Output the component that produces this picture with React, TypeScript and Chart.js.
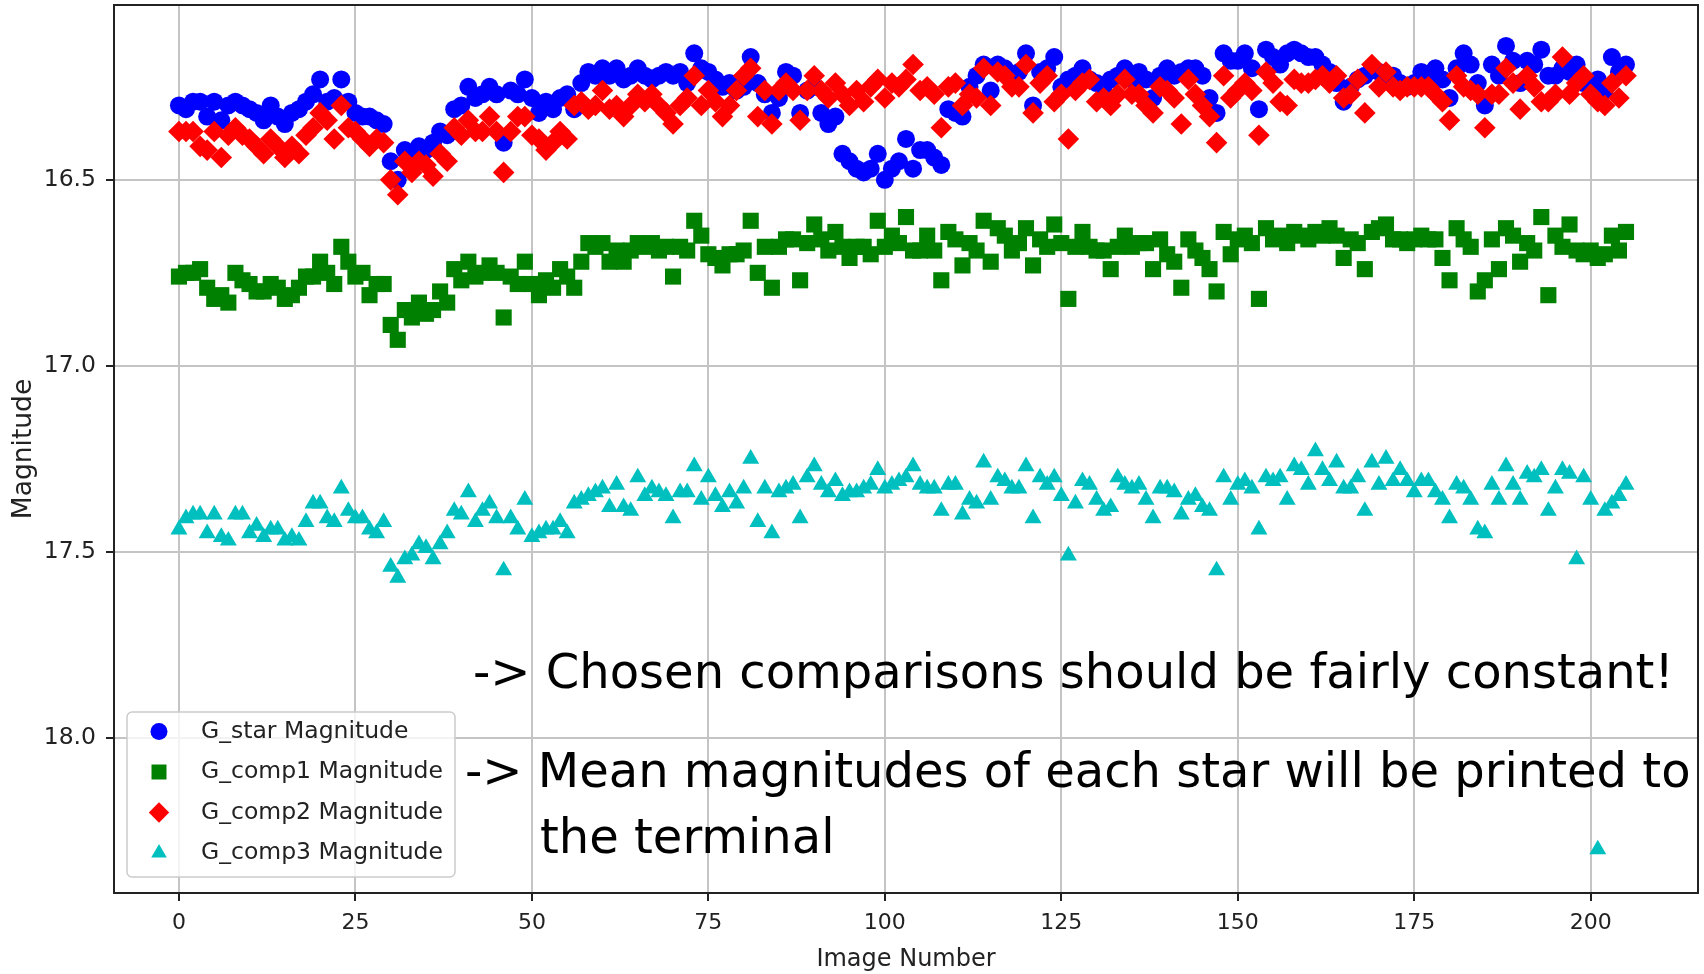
import React, { useEffect, useRef } from 'react';
import { Chart, registerables } from 'chart.js';
import { drawPoint } from 'chart.js/helpers';

Chart.register(...registerables);

const imageNumbers: number[] = Array.from({ length: 206 }, (_, i) => i);

const gStar = [
  16.30, 16.31, 16.29, 16.29, 16.33, 16.29, 16.34, 16.30, 16.29, 16.30,
  16.31, 16.32, 16.34, 16.30, 16.33, 16.35, 16.32, 16.31, 16.29, 16.27,
  16.23, 16.29, 16.28, 16.23, 16.29, 16.32, 16.33, 16.33, 16.34, 16.35,
  16.45, 16.50, 16.42, 16.43, 16.41, 16.42, 16.40, 16.37, 16.38, 16.31,
  16.30, 16.25, 16.28, 16.27, 16.25, 16.27, 16.40, 16.26, 16.27, 16.23,
  16.28, 16.32, 16.29, 16.31, 16.28, 16.27, 16.31, 16.24, 16.21, 16.22,
  16.20, 16.22, 16.20, 16.23, 16.22, 16.20, 16.22, 16.23, 16.22, 16.21,
  16.22, 16.21, 16.24, 16.16, 16.20, 16.21, 16.23, 16.25, 16.24, 16.26,
  16.25, 16.17, 16.24, 16.27, 16.32, 16.28, 16.21, 16.22, 16.32, 16.26,
  16.25, 16.32, 16.35, 16.33, 16.43, 16.45, 16.47, 16.48, 16.47, 16.43,
  16.50, 16.47, 16.45, 16.39, 16.47, 16.42, 16.42, 16.44, 16.46, 16.31,
  16.32, 16.33, 16.25, 16.22, 16.19, 16.26, 16.19, 16.20, 16.22, 16.21,
  16.16, 16.30, 16.21, 16.20, 16.17, 16.25, 16.23, 16.22, 16.20, 16.23,
  16.24, 16.25, 16.23, 16.22, 16.20, 16.23, 16.21, 16.23, 16.28, 16.22,
  16.20, 16.22, 16.21, 16.20, 16.20, 16.22, 16.28, 16.32, 16.16, 16.18,
  16.18, 16.16, 16.20, 16.31, 16.15, 16.17, 16.19, 16.16, 16.15, 16.16,
  16.17, 16.17, 16.19, 16.21, 16.24, 16.29, 16.25, 16.23, 16.22, 16.20,
  16.21, 16.22, 16.22, 16.24, 16.25, 16.24, 16.21, 16.22, 16.20, 16.23,
  16.28, 16.20, 16.16, 16.19, 16.24, 16.30, 16.19, 16.22, 16.14, 16.18,
  16.24, 16.18, 16.19, 16.15, 16.22, 16.22, 16.20, 16.21, 16.19, 16.24,
  16.25, 16.23, 16.26, 16.17, 16.21, 16.19,
];

const gComp1 = [
  16.76, 16.75, 16.75, 16.74, 16.79, 16.82, 16.81, 16.83, 16.75, 16.77,
  16.78, 16.80, 16.80, 16.78, 16.79, 16.82, 16.81, 16.79, 16.76, 16.76,
  16.72, 16.75, 16.78, 16.68, 16.72, 16.76, 16.75, 16.81, 16.78, 16.78,
  16.89, 16.93, 16.85, 16.87, 16.83, 16.86, 16.85, 16.80, 16.83, 16.74,
  16.77, 16.72, 16.76, 16.75, 16.73, 16.75, 16.87, 16.76, 16.78, 16.72,
  16.78, 16.81, 16.77, 16.79, 16.74, 16.76, 16.79, 16.72, 16.67, 16.68,
  16.67, 16.72, 16.69, 16.72, 16.69, 16.67, 16.68, 16.67, 16.69, 16.68,
  16.76, 16.68, 16.69, 16.61, 16.65, 16.70, 16.71, 16.73, 16.70, 16.70,
  16.69, 16.61, 16.75, 16.68, 16.79, 16.68, 16.66, 16.66, 16.77, 16.67,
  16.62, 16.66, 16.69, 16.64, 16.68, 16.71, 16.68, 16.68, 16.70, 16.61,
  16.68, 16.65, 16.67, 16.60, 16.69, 16.69, 16.65, 16.69, 16.77, 16.64,
  16.66, 16.73, 16.67, 16.69, 16.61, 16.72, 16.63, 16.65, 16.69, 16.67,
  16.63, 16.73, 16.66, 16.68, 16.62, 16.67, 16.82, 16.68, 16.64, 16.68,
  16.69, 16.69, 16.74, 16.68, 16.65, 16.68, 16.67, 16.67, 16.74, 16.66,
  16.70, 16.72, 16.79, 16.66, 16.69, 16.71, 16.74, 16.80, 16.64, 16.70,
  16.66, 16.65, 16.67, 16.82, 16.63, 16.66, 16.65, 16.67, 16.64, 16.65,
  16.66, 16.64, 16.65, 16.63, 16.65, 16.71, 16.66, 16.67, 16.74, 16.64,
  16.63, 16.62, 16.66, 16.66, 16.67, 16.66, 16.65, 16.66, 16.66, 16.71,
  16.77, 16.63, 16.66, 16.68, 16.80, 16.77, 16.66, 16.74, 16.63, 16.65,
  16.72, 16.67, 16.69, 16.60, 16.81, 16.65, 16.68, 16.62, 16.69, 16.70,
  16.69, 16.71, 16.70, 16.65, 16.69, 16.64,
];

const gComp2 = [
  16.37, 16.37, 16.37, 16.41, 16.42, 16.37, 16.44, 16.38, 16.36, 16.38,
  16.39, 16.41, 16.43, 16.39, 16.41, 16.44, 16.41, 16.43, 16.38, 16.36,
  16.32, 16.34, 16.39, 16.30, 16.36, 16.37, 16.39, 16.41, 16.39, 16.40,
  16.50, 16.54, 16.45, 16.48, 16.45, 16.46, 16.49, 16.43, 16.45, 16.36,
  16.38, 16.34, 16.37, 16.37, 16.33, 16.37, 16.48, 16.37, 16.33, 16.33,
  16.38, 16.39, 16.42, 16.40, 16.37, 16.39, 16.30, 16.29, 16.31, 16.30,
  16.26, 16.31, 16.30, 16.33, 16.30, 16.27, 16.29, 16.27, 16.30, 16.32,
  16.35, 16.30, 16.28, 16.22, 16.30, 16.26, 16.29, 16.33, 16.30, 16.26,
  16.22, 16.20, 16.33, 16.26, 16.35, 16.26, 16.24, 16.26, 16.34, 16.26,
  16.22, 16.26, 16.28, 16.24, 16.27, 16.30, 16.26, 16.29, 16.25, 16.23,
  16.28, 16.24, 16.25, 16.23, 16.19, 16.26, 16.25, 16.27, 16.36, 16.25,
  16.24, 16.30, 16.27, 16.28, 16.20, 16.30, 16.21, 16.22, 16.25, 16.25,
  16.19, 16.32, 16.24, 16.22, 16.29, 16.27, 16.39, 16.26, 16.24, 16.23,
  16.29, 16.28, 16.30, 16.27, 16.23, 16.27, 16.27, 16.30, 16.32, 16.25,
  16.26, 16.28, 16.35, 16.23, 16.27, 16.30, 16.33, 16.40, 16.22, 16.28,
  16.26, 16.24, 16.26, 16.38, 16.21, 16.24, 16.29, 16.30, 16.23, 16.24,
  16.24, 16.23, 16.22, 16.24, 16.22, 16.28, 16.27, 16.23, 16.32, 16.19,
  16.25, 16.21, 16.25, 16.26, 16.25, 16.25, 16.25, 16.25, 16.27, 16.29,
  16.34, 16.22, 16.25, 16.26, 16.27, 16.36, 16.27, 16.27, 16.20, 16.24,
  16.31, 16.22, 16.25, 16.29, 16.29, 16.27, 16.17, 16.27, 16.24, 16.22,
  16.27, 16.29, 16.30, 16.24, 16.28, 16.22,
];

const gComp3 = [
  17.44, 17.41, 17.40, 17.40, 17.45, 17.40, 17.46, 17.47, 17.40, 17.40,
  17.45, 17.43, 17.46, 17.44, 17.44, 17.47, 17.46, 17.47, 17.42, 17.37,
  17.37, 17.41, 17.42, 17.33, 17.39, 17.41, 17.41, 17.44, 17.45, 17.42,
  17.54, 17.57, 17.52, 17.51, 17.48, 17.49, 17.52, 17.48, 17.45, 17.39,
  17.40, 17.34, 17.42, 17.39, 17.37, 17.41, 17.55, 17.41, 17.44, 17.36,
  17.46, 17.45, 17.44, 17.44, 17.42, 17.45, 17.37, 17.36, 17.35, 17.34,
  17.33, 17.38, 17.32, 17.38, 17.39, 17.30, 17.35, 17.33, 17.34, 17.35,
  17.41, 17.34, 17.34, 17.27, 17.36, 17.30, 17.35, 17.38, 17.34, 17.37,
  17.33, 17.25, 17.42, 17.33, 17.45, 17.34, 17.33, 17.32, 17.41, 17.30,
  17.27, 17.32, 17.34, 17.31, 17.35, 17.34, 17.34, 17.33, 17.32, 17.28,
  17.33, 17.32, 17.31, 17.30, 17.27, 17.32, 17.33, 17.33, 17.39, 17.32,
  17.32, 17.40, 17.36, 17.37, 17.26, 17.36, 17.30, 17.31, 17.33, 17.33,
  17.27, 17.41, 17.30, 17.32, 17.30, 17.35, 17.51, 17.37, 17.31, 17.32,
  17.36, 17.39, 17.38, 17.30, 17.32, 17.33, 17.32, 17.36, 17.41, 17.33,
  17.33, 17.34, 17.40, 17.36, 17.35, 17.38, 17.39, 17.55, 17.30, 17.36,
  17.32, 17.31, 17.33, 17.44, 17.30, 17.31, 17.30, 17.36, 17.27, 17.28,
  17.32, 17.23, 17.28, 17.31, 17.26, 17.33, 17.33, 17.30, 17.39, 17.26,
  17.32, 17.25, 17.31, 17.28, 17.31, 17.34, 17.31, 17.31, 17.34, 17.36,
  17.41, 17.32, 17.33, 17.36, 17.44, 17.45, 17.32, 17.36, 17.27, 17.32,
  17.36, 17.29, 17.30, 17.28, 17.39, 17.33, 17.28, 17.29, 17.52, 17.30,
  17.36, 18.30, 17.39, 17.37, 17.35, 17.32,
];

const seriesLabels = ['G_star Magnitude', 'G_comp1 Magnitude', 'G_comp2 Magnitude', 'G_comp3 Magnitude'];
const seriesValues = [gStar, gComp1, gComp2, gComp3];
const seriesColors = ['#0000ff', '#008000', '#ff0000', '#00bfbf'];
const seriesShapes = ['circle', 'rect', 'rectRot', 'triangle'];
const seriesRadii = [9, 11.4, 10.8, 9.8];
const legendRadii = [8.5, 10.6, 10.2, 9];
const seriesOrder = [4, 3, 2, 1];

const xTicks = [0, 25, 50, 75, 100, 125, 150, 175, 200];
const yTicks = [16.5, 17.0, 17.5, 18.0];

const annotationLine1 = '-> Chosen comparisons should be fairly constant!';
const annotationLine2 = '-> Mean magnitudes of each star will be printed to';
const annotationLine3 = 'the terminal';

const FONT = "'DejaVu Sans', 'Liberation Sans', sans-serif";

const framePlugin = {
  id: 'axesFrame',
  afterDatasetsDraw(chart: any) {
    const { ctx, chartArea: a } = chart;
    ctx.save();
    ctx.strokeStyle = '#222';
    ctx.lineWidth = 2;
    ctx.strokeRect(a.left, a.top, a.right - a.left, a.bottom - a.top);
    ctx.restore();
  },
};

const legendPlugin = {
  id: 'boxLegend',
  afterDraw(chart: any) {
    const { ctx, chartArea: a } = chart;
    const boxX = a.left + 13;
    const boxY = a.bottom - 181;
    const boxW = 328;
    const boxH = 165;
    ctx.save();
    ctx.beginPath();
    if (ctx.roundRect) ctx.roundRect(boxX, boxY, boxW, boxH, 5);
    else ctx.rect(boxX, boxY, boxW, boxH);
    ctx.fillStyle = 'rgba(255,255,255,0.8)';
    ctx.fill();
    ctx.strokeStyle = '#cccccc';
    ctx.lineWidth = 1.5;
    ctx.stroke();
    const rowGap = 40.5;
    const firstRow = boxY + 19.5;
    chart.data.datasets.forEach((ds: any, i: number) => {
      const y = firstRow + i * rowGap;
      ctx.fillStyle = ds.backgroundColor;
      ctx.strokeStyle = ds.backgroundColor;
      drawPoint(ctx, { pointStyle: ds.pointStyle, radius: legendRadii[i], rotation: 0, borderWidth: 0 }, boxX + 32, y);
      ctx.fillStyle = '#222';
      ctx.font = `23.5px ${FONT}`;
      ctx.textBaseline = 'middle';
      ctx.textAlign = 'left';
      ctx.fillText(ds.label, boxX + 74, y);
    });
    ctx.restore();
  },
};

export default function App() {
  const canvasRef = useRef<HTMLCanvasElement | null>(null);

  useEffect(() => {
    const canvas = canvasRef.current;
    if (!canvas) return;
    const datasets = seriesValues.map((vals, si) => ({
      label: seriesLabels[si],
      data: vals.map((v, i) => ({ x: imageNumbers[i], y: v })),
      backgroundColor: seriesColors[si],
      borderColor: seriesColors[si],
      pointBackgroundColor: seriesColors[si],
      pointBorderColor: seriesColors[si],
      pointBorderWidth: 0,
      borderWidth: 0,
      pointStyle: seriesShapes[si],
      pointRadius: seriesRadii[si],
      pointHoverRadius: seriesRadii[si],
      showLine: false,
      order: seriesOrder[si],
    }));

    const chart = new Chart(canvas, {
      type: 'scatter',
      data: { datasets },
      options: {
        responsive: false,
        animation: false,
        devicePixelRatio: 1,
        layout: { autoPadding: false, padding: { left: 0, right: 6, top: 5, bottom: 0 } },
        plugins: {
          legend: { display: false },
          tooltip: { enabled: false },
        },
        events: [],
        scales: {
          x: {
            type: 'linear',
            min: -9.2,
            max: 215.2,
            afterBuildTicks: (s: any) => {
              s.ticks = xTicks.map((v) => ({ value: v }));
            },
            afterFit: (s: any) => {
              s.height = 81;
              s.paddingLeft = 0;
              s.paddingRight = 0;
            },
            grid: { color: '#c4c4c4', lineWidth: 2, tickColor: '#222', tickLength: 8, tickWidth: 2 },
            border: { display: false },
            ticks: {
              font: { family: FONT, size: 22 },
              color: '#222',
              padding: 9,
              autoSkip: false,
              maxRotation: 0,
              callback: (v: any) => String(v),
            },
            title: { display: true, text: 'Image Number', font: { family: FONT, size: 24 }, color: '#222', padding: { top: 3, bottom: 0 } },
          },
          y: {
            type: 'linear',
            reverse: true,
            min: 16.03,
            max: 18.417,
            afterBuildTicks: (s: any) => {
              s.ticks = yTicks.map((v) => ({ value: v }));
            },
            afterFit: (s: any) => {
              s.width = 114;
              s.paddingTop = 0;
              s.paddingBottom = 0;
            },
            grid: { color: '#c4c4c4', lineWidth: 2, tickColor: '#222', tickLength: 8, tickWidth: 2 },
            border: { display: false },
            ticks: {
              font: { family: FONT, size: 23.5 },
              color: '#222',
              padding: 10,
              autoSkip: false,
              callback: (v: any) => Number(v).toFixed(1),
            },
            title: { display: true, text: 'Magnitude', font: { family: FONT, size: 26.5 }, color: '#222', padding: { top: 8, bottom: 0 } },
          },
        },
      },
      plugins: [framePlugin, legendPlugin],
    } as any);

    return () => {
      chart.destroy();
    };
  }, []);

  const textStyle: React.CSSProperties = {
    position: 'absolute',
    fontFamily: FONT,
    fontSize: '48px',
    lineHeight: '48px',
    color: '#000',
    whiteSpace: 'pre',
    margin: 0,
  };

  return (
    <div style={{ position: 'fixed', left: 0, top: 0, width: 1704, height: 974, background: '#fff', overflow: 'hidden' }}>
      <canvas ref={canvasRef} width={1704} height={974} style={{ position: 'absolute', left: 0, top: 0, width: 1704, height: 974 }} />
      <div style={{ ...textStyle, left: 473, top: 688 - 40.6 }}>{annotationLine1}</div>
      <div style={{ ...textStyle, left: 465, top: 787 - 40.6 }}>{annotationLine2}</div>
      <div style={{ ...textStyle, left: 540, top: 853 - 40.6 }}>{annotationLine3}</div>
    </div>
  );
}
